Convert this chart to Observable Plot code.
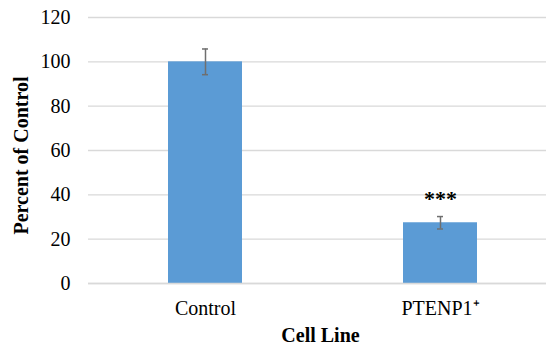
<!DOCTYPE html>
<html>
<head>
<meta charset="utf-8">
<script src="https://cdn.jsdelivr.net/npm/d3@7"></script>
<script src="https://cdn.jsdelivr.net/npm/@observablehq/plot@0.6"></script>
<style>
  html, body { margin: 0; padding: 0; background: #fff; }
</style>
</head>
<body>
<div id="chart"></div>
<script>
const categories = ["Control", "PTENP1⁺"];
const values = [100, 27.4];
const errors = [5.8, 2.8];
const significance = ["", "***"];
const yTicks = [0, 20, 40, 60, 80, 100, 120];
const xLabel = "Cell Line";
const yLabel = "Percent of Control";

const data = categories.map((c, i) => ({
  cat: c, value: values[i], err: errors[i], sig: significance[i]
}));

const chart = Plot.plot({
  width: 546,
  height: 347,
  marginTop: 17,
  marginBottom: 64,
  marginLeft: 88,
  marginRight: 0,
  style: { fontFamily: "'Liberation Serif', 'Times New Roman', serif", fontSize: "20px", color: "#000", background: "#fff" },
  x: { domain: categories, range: [88, 558], paddingInner: 0.685, paddingOuter: 0.3425 },
  y: { domain: [0, 120] },
  marks: [
    Plot.gridY(yTicks, { stroke: "#d9d9d9", strokeOpacity: 1, strokeWidth: 1.3 }),
    Plot.barY(data, { x: "cat", y: "value", fill: "#5b9bd5" }),
    Plot.ruleY([0], { stroke: "#d9d9d9", strokeWidth: 1.3 }),
    Plot.ruleX(data, { x: "cat", y1: d => d.value - d.err, y2: d => d.value + d.err, stroke: "#6f6f6f", strokeWidth: 1.5 }),
    Plot.tickY(data, { x: "cat", y: d => d.value + d.err, stroke: "#6f6f6f", strokeWidth: 1.5, insetLeft: 34, insetRight: 34 }),
    Plot.tickY(data, { x: "cat", y: d => d.value - d.err, stroke: "#6f6f6f", strokeWidth: 1.5, insetLeft: 34, insetRight: 34 }),
    Plot.text(data.filter(d => d.sig), { x: "cat", y: d => d.value + d.err, text: "sig", dy: -18, fontSize: 22, fontWeight: "bold", lineAnchor: "middle", fill: "#000" }),
    Plot.axisY(yTicks, { tickSize: 0, tickPadding: 18, label: null, fontSize: 20 }),
    Plot.axisX({ tickSize: 0, tickPadding: 17, label: null, fontSize: 20 }),
    Plot.text([yLabel], { frameAnchor: "left", textAnchor: "middle", dx: -67, dy: 5, rotate: -90, fontWeight: "bold", fontSize: 20, lineAnchor: "middle", fill: "#000" }),
    Plot.text([xLabel], { frameAnchor: "bottom", dx: 3, dy: 52.5, fontWeight: "bold", fontSize: 20, lineAnchor: "middle", fill: "#000" })
  ]
});
document.getElementById("chart").appendChild(chart);
</script>
</body>
</html>
